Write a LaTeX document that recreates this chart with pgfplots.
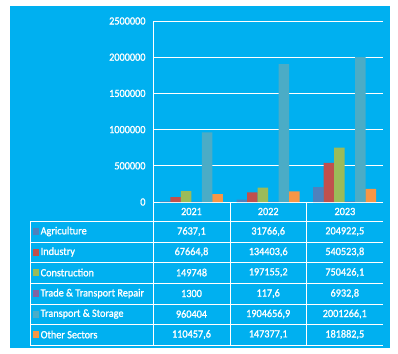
\documentclass[border=0pt]{standalone}
\usepackage{pgfplots}
\pgfplotsset{compat=1.18}
\usepackage{fontspec}
\setmainfont{Carlito}[FakeStretch=0.93,FakeBold=1.2]
\definecolor{bg}{HTML}{00B0F0}
\definecolor{cA}{HTML}{4F81BD}
\definecolor{cB}{HTML}{C0504D}
\definecolor{cC}{HTML}{9BBB59}
\definecolor{cD}{HTML}{8064A2}
\definecolor{cE}{HTML}{4BACC6}
\definecolor{cF}{HTML}{F79646}
\begin{document}
\begin{tikzpicture}[x=1pt,y=1pt,font=\fontsize{11}{12}\selectfont]
\fill[white] (0,0) rectangle (398,-353);
\fill[bg] (10,-6) rectangle (390,-348);
\begin{axis}[
  at={(153pt,-202pt)}, anchor=south west,
  scale only axis, width=230pt, height=181pt,
  ybar=0pt, bar width=10.5pt,
  xmin=-0.5, xmax=2.5, ymin=0, ymax=2500000,
  ytick={0,500000,1000000,1500000,2000000,2500000},
  xtick=\empty,
  scaled y ticks=false,
  /pgf/number format/assume math mode=true,
  yticklabel style={/pgf/number format/fixed,/pgf/number format/1000 sep={},text=white,font=\fontsize{11}{12}\selectfont,xshift=-4pt},
  ymajorgrids, grid style={white,line width=0.8pt},
  axis line style={white,line width=0.8pt},
  axis x line*=bottom, axis y line*=left,
  y axis line style={-}, x axis line style={-},
  major tick length=0pt,
  tick style={draw=none},
  every axis plot/.append style={draw=none},
]
\addplot[fill=cA] coordinates {(0,7637.1) (1,31766.6) (2,204922.5)};
\addplot[fill=cB] coordinates {(0,67664.8) (1,134403.6) (2,540523.8)};
\addplot[fill=cC] coordinates {(0,149748) (1,197155.2) (2,750426.1)};
\addplot[fill=cD] coordinates {(0,1300) (1,117.6) (2,6932.8)};
\addplot[fill=cE] coordinates {(0,960404) (1,1904656.9) (2,2001266.1)};
\addplot[fill=cF] coordinates {(0,110457.6) (1,147377.1) (2,181882.5)};
\end{axis}
% table
\begin{scope}[white,line width=0.8pt]
\foreach \y in {221,242,262,283,304,324,345} \draw (30,-\y) -- (383,-\y);
\draw (30,-221) -- (30,-345);
\foreach \x in {153,230,306} \draw (\x,-202) -- (\x,-345);
\end{scope}
\foreach \t [count=\i from 0] in {2021,2022,2023}
  \node[text=white] at (191.5+76.7*\i,-211.5) {\t};
\foreach \c/\lab/\yy/\a/\b/\d in {
  cA/Agriculture/231.5/{7637,1}/{31766,6}/{204922,5},
  cB/Industry/252/{67664,8}/{134403,6}/{540523,8},
  cC/Construction/272.5/{149748}/{197155,2}/{750426,1},
  cD/{Trade \& Transport Repair}/293.5/{1300}/{117,6}/{6932,8},
  cE/{Transport \& Storage}/314/{960404}/{1904656,9}/{2001266,1},
  cF/Other Sectors/334.5/{110457,6}/{147377,1}/{181882,5}} {
  \fill[\c] (33,-\yy-3.5) rectangle (38.5,-\yy+3.5);
  \node[text=white,anchor=west,inner sep=0pt] at (40.5,-\yy) {\lab};
  \node[text=white] at (191.5,-\yy) {\a};
  \node[text=white] at (268.2,-\yy) {\b};
  \node[text=white] at (344.8,-\yy) {\d};
}
\end{tikzpicture}
\end{document}
